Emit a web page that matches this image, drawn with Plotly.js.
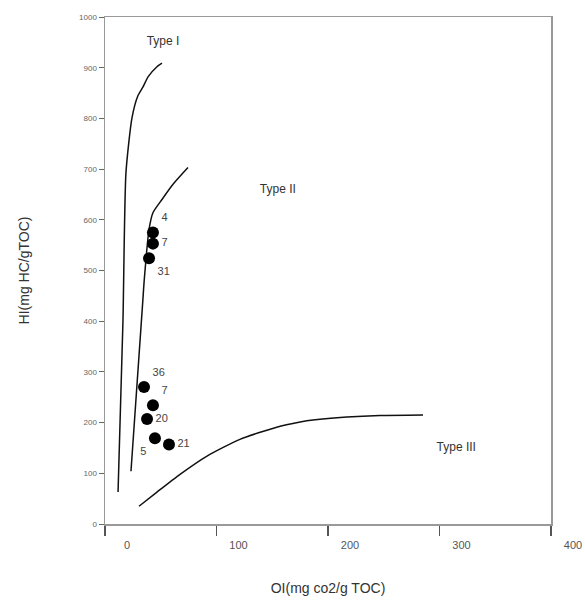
<!DOCTYPE html>
<html>
<head>
<meta charset="utf-8">
<script src="https://cdn.plot.ly/plotly-3.0.1.min.js"></script>
<style>html,body{margin:0;padding:0;background:#fff;}#chart{width:585px;height:603px;}</style>
</head>
<body>
<div id="chart"></div>
<script>
// Boundary curves (OI, HI)
var typeI_OI  = [11.7, 16.1, 18.8, 24.2, 29.6, 34.1, 38.6, 46.6, 51.1];
var typeI_HI  = [63, 400, 693, 801, 845, 862, 882, 902, 909];
var typeII_OI = [23.3, 34, 35, 39.5, 43, 51.1, 61, 74.4];
var typeII_HI = [104, 443, 476, 581, 614, 640, 670, 703];
var typeIII_OI = [30.5, 46.6, 67.3, 91.5, 121, 154, 175, 186.5, 217, 246.6, 285.2];
var typeIII_HI = [35, 63, 98, 134, 167, 191, 201, 205, 211, 214, 215];

// Samples
var sampleOI = [43, 43, 39.5, 35, 43, 37.7, 44.8, 57.4];
var sampleHI = [575, 553, 524, 270, 234, 207, 169, 157];
var sampleLabels = ["4", "7", "31", "36", "7", "20", "5", "21"];
var labelPos = ["top right", "middle right", "bottom right", "top right", "top right", "middle right", "bottom left", "middle right"];

// Region labels
var regionNames = ["Type I", "Type II", "Type III"];
var regionOI = [52, 155, 315];
var regionHI = [951, 659, 150];

// Axis ticks
var xTicks = [0, 100, 200, 300, 400];
var yTicks = [0, 100, 200, 300, 400, 500, 600, 700, 800, 900, 1000];

var lineStyle = {color: '#111', width: 1.5, shape: 'spline', smoothing: 0.6};

var traces = [
  {x: typeI_OI, y: typeI_HI, mode: 'lines', line: lineStyle, hoverinfo: 'skip', name: 'Type I'},
  {x: typeII_OI, y: typeII_HI, mode: 'lines', line: lineStyle, hoverinfo: 'skip', name: 'Type II'},
  {x: typeIII_OI, y: typeIII_HI, mode: 'lines', line: lineStyle, hoverinfo: 'skip', name: 'Type III'},
  {x: sampleOI, y: sampleHI, mode: 'markers+text', text: sampleLabels, textposition: labelPos,
   textfont: {family: 'Liberation Sans, Arial, sans-serif', size: 11, color: '#444'},
   marker: {color: '#000', size: 12}, name: 'Samples'},
  {x: regionOI, y: regionHI, mode: 'text', text: regionNames, textposition: 'middle center',
   textfont: {family: 'Liberation Sans, Arial, sans-serif', size: 12, color: '#333'}, hoverinfo: 'skip', name: 'Regions'}
];

var layout = {
  width: 585, height: 603,
  margin: {l: 105, r: 34, t: 17, b: 79},
  showlegend: false,
  paper_bgcolor: '#fff', plot_bgcolor: '#fff',
  font: {family: 'Liberation Sans, Arial, sans-serif', color: '#333'},
  xaxis: {
    range: [0, 400], tickvals: xTicks, ticktext: xTicks.map(String),
    showgrid: false, zeroline: false,
    showline: true, mirror: true, linecolor: '#999', linewidth: 1.5,
    ticks: 'outside', ticklen: 10, tickcolor: '#555', tickwidth: 1.5,
    ticklabelshift: 22,
    tickfont: {size: 11, color: '#555'},
    title: {text: 'OI(mg co2/g TOC)', font: {size: 14, color: '#333'}, standoff: 33}
  },
  yaxis: {
    range: [0, 1000], tickvals: yTicks, ticktext: yTicks.map(String),
    showgrid: false, zeroline: false,
    showline: true, mirror: true, linecolor: '#999', linewidth: 1.5,
    ticks: 'outside', ticklen: 5, tickcolor: '#666', tickwidth: 1,
    tickfont: {size: 8, color: '#666'},
    title: {text: 'HI(mg HC/gTOC)', font: {size: 14, color: '#333'}, standoff: 46}
  }
};

Plotly.newPlot('chart', traces, layout, {displayModeBar: false, staticPlot: true});
</script>
</body>
</html>
